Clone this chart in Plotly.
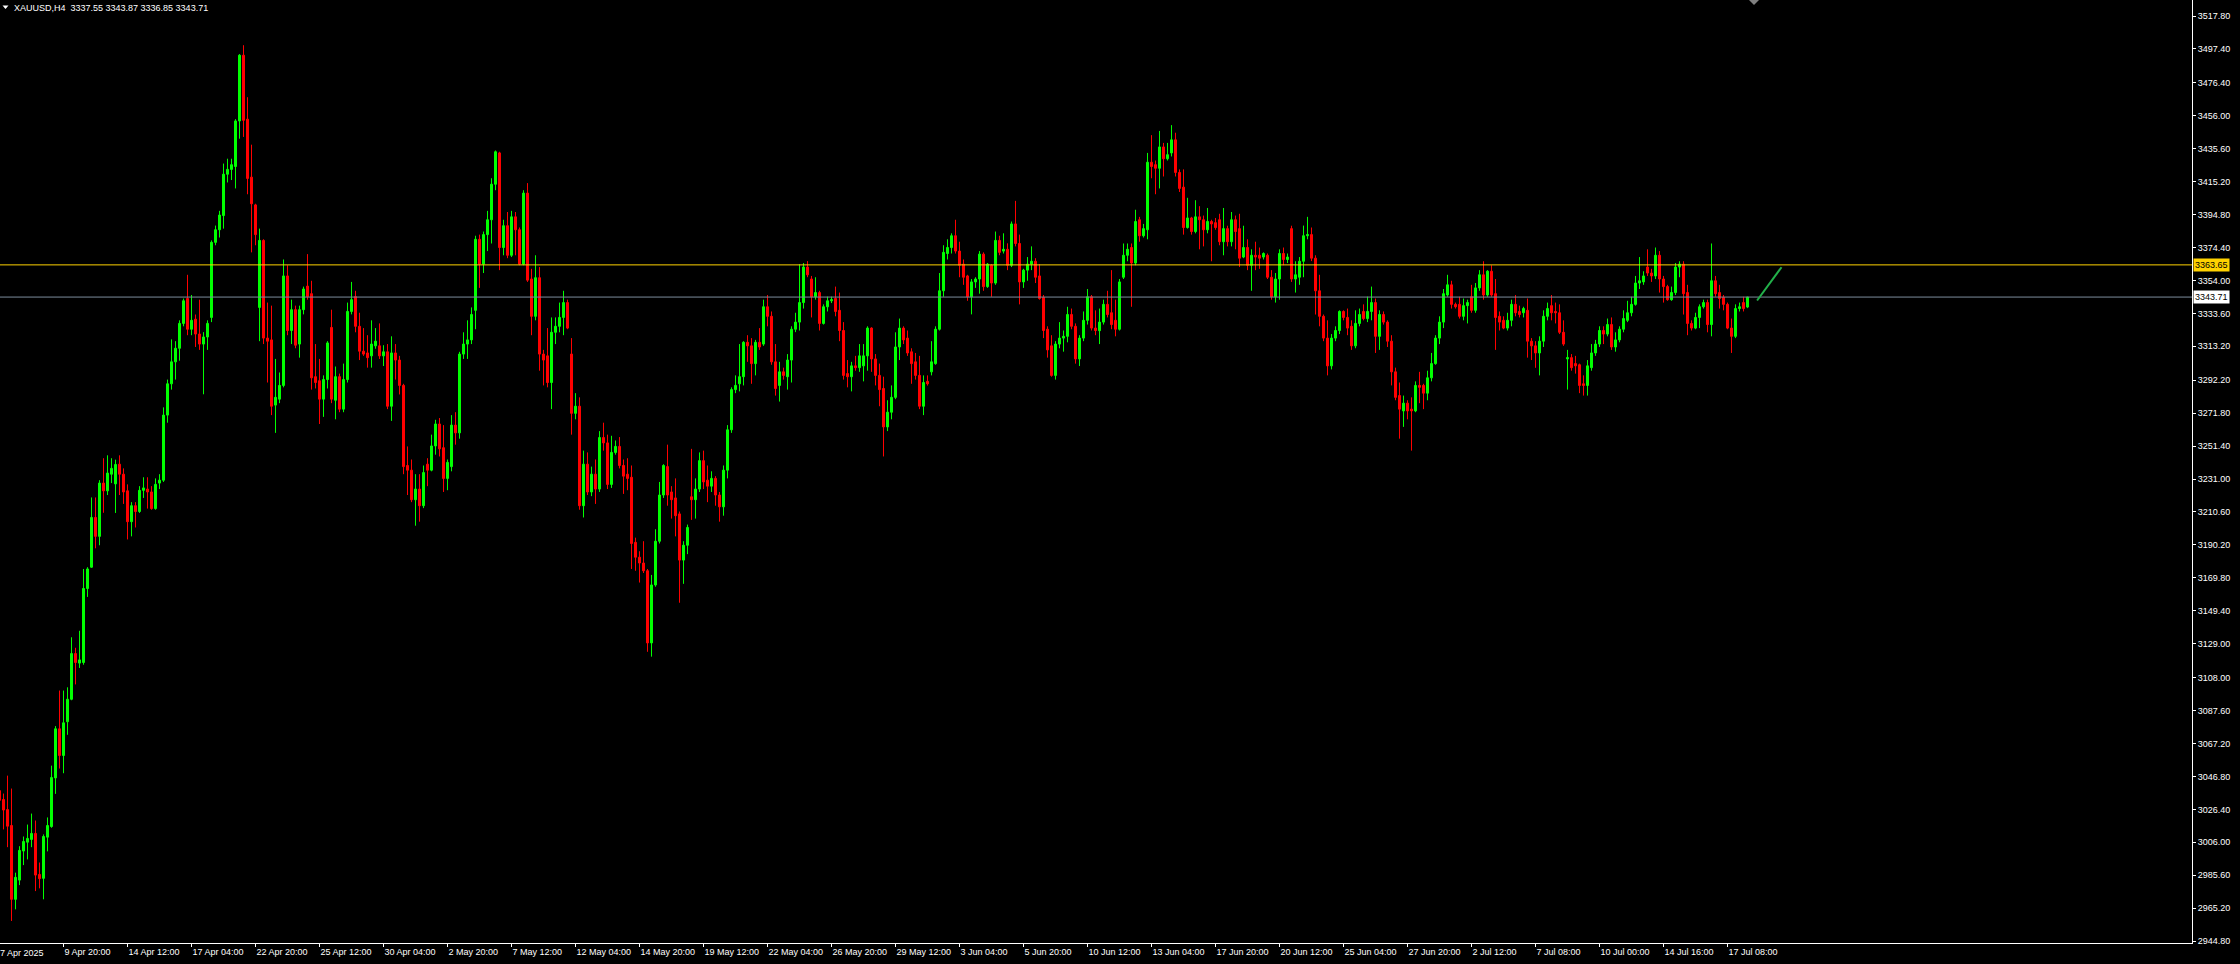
import plotly.graph_objects as go

symbol = "XAUUSD,H4"

opens = [3038,3032.5,3026.3,3016.4,2970.7,2982.6,3000.6,3006.1,3007.8,3011.5,2986.1,2983.7,3009.2,3015.8,3045.9,3076.3,3059.8,3080.7,3094.6,3122.9,
3117,3117.4,3163.2,3176.4,3207.2,3195.5,3228.5,3223.7,3234,3228,3240.2,3234,3223.7,3204.6,3214.5,3210.9,3224,3224.8,3223,3212.7,
3228.5,3230.3,3270.6,3290,3303.6,3312,3327.4,3342.8,3323.8,3330,3320.8,3314.6,3319,3331.1,3377.6,3385.4,3394.2,3419.8,3422.8,3424.6,
3452.8,3493.5,3453.9,3418,3400.8,3337.3,3378.8,3318.3,3317.2,3276.8,3280.5,3289,3356.8,3323,3335.9,3314.6,3335.9,3350.5,3345.8,3294.4,
3291.9,3280.5,3292.6,3324.9,3279.8,3294.4,3274.3,3292.6,3334.8,3344,3325.6,3310.2,3309.1,3307.3,3313.5,3313.5,3307.3,3309.8,3276.1,3309.1,
3304.7,3289,3239.4,3236.5,3218.2,3224.8,3214.5,3240.2,3236.5,3251.5,3265.1,3250.4,3231.4,3238.7,3264.4,3259.6,3308.4,3314.6,3317.2,3335.5,
3379.5,3364.1,3382.4,3391.6,3413.6,3433,3374.4,3387.9,3369.6,3393.4,3385.4,3364.1,3408.1,3354.9,3331.8,3355.7,3308.4,3307.3,3290.8,3321.9,
3325.6,3331.1,3340.3,3308.4,3271.7,3276.1,3214.5,3240.2,3223,3234,3224.8,3256.7,3253.4,3227.7,3247.5,3251.2,3239.4,3234,3232.1,3191.8,
3182.6,3179,3174.2,3129.5,3165.4,3192.5,3221.1,3238.7,3223,3219.3,3209.4,3180.8,3190,3220,3218.2,3224.8,3242.4,3230.3,3226.6,3231.4,
3221.1,3213.8,3236.5,3261.5,3286.4,3290,3294.4,3315.7,3313.5,3302.5,3315.7,3314.6,3337.7,3331.8,3303.6,3289,3297.4,3294.4,3304.7,3323.8,
3328.2,3340.3,3362.3,3354.9,3343.9,3346.5,3327.4,3337.7,3341.4,3342.8,3335.5,3323,3296.3,3294.4,3301.1,3300,3301.1,3307.3,3324.5,3305.4,
3295.2,3287.1,3263.3,3272.4,3281.6,3312.8,3324.5,3318.3,3309.8,3303.6,3295.2,3276.1,3291.5,3297.4,3302.5,3323.8,3347.6,3370.7,3374.4,3381.7,
3372.2,3364.1,3356.8,3343.9,3353.1,3354.9,3370.3,3350.2,3363.4,3352.4,3378.8,3372.2,3373.3,3363.4,3389,3376.9,3353.1,3360.4,3364.1,3365.9,
3356.8,3343.6,3323.8,3313.5,3295.2,3314.6,3318.3,3319.4,3332.9,3325.6,3305.4,3318.3,3329.3,3343.9,3324.5,3322.9,3328.2,3339.2,3334,3329.3,
3323.8,3356,3369.6,3374.4,3364.8,3391.6,3381.7,3385.4,3427.2,3425.7,3423.5,3436.7,3429.4,3433,3441.1,3420.9,3411.8,3386.8,3392.7,3384.3,
3393.4,3391.6,3385.4,3390.5,3389.8,3391.6,3378,3386.1,3378,3391.6,3386.1,3368.5,3374.4,3363.4,3369.6,3369.6,3368.5,3369.6,3356,3343.9,
3354.9,3370.7,3367,3386.1,3354.9,3356,3365.9,3381.7,3382.4,3367.8,3347.6,3331.8,3318.3,3301.1,3318.3,3323,3334.8,3331.1,3325.6,3313.5,
3327.4,3334.8,3330.4,3334.8,3340.3,3319.4,3332.9,3328.2,3316.4,3297.4,3282.7,3273.2,3278,3274.3,3273.2,3289,3289,3284.2,3293.7,3302.5,
3318.3,3328.2,3345,3351.3,3339.2,3339.2,3331.8,3338.4,3343.9,3335.5,3349.4,3357.5,3345,3359.7,3345.8,3331.8,3329.3,3324.5,3329.3,3339.2,
3334.8,3334,3335.5,3316.4,3313.5,3309.1,3316.4,3331.8,3338.4,3334.8,3334,3321.9,3305.4,3306.2,3302.5,3301.8,3290,3289,3300,3309.1,
3314.6,3323,3320.8,3326.7,3312.8,3317.2,3323.8,3329.3,3334,3339.2,3352.4,3353.1,3362.3,3358.6,3356.8,3369.6,3354.9,3350.2,3342.1,3346.5,
3362.3,3364.1,3346.5,3327.4,3324.5,3331.1,3337.7,3340.3,3326.7,3353.8,3346.5,3343.6,3339.2,3324.5,3319.4,3336.6,3340.3,3337.55]

highs = [3041,3036.2,3047.3,3039.3,2987.2,3003.6,3009.6,3017,3023.8,3019.5,2993.5,3010.9,3021.4,3053.5,3078,3100,3100,3102,3133,3126.5,
3137,3175.3,3176.4,3219.6,3219.6,3230.3,3243.9,3245.7,3243.9,3243,3245.7,3237.6,3227.7,3216.7,3216.7,3226.6,3232.1,3232.1,3226.6,3231.4,
3234,3275.4,3292.6,3317.5,3316.4,3329.3,3342.8,3357.5,3345,3332.9,3342.1,3322,3329.3,3378.8,3388,3397.1,3426.4,3429.4,3429.4,3453.9,
3494.2,3499.7,3467.5,3438.1,3401.5,3386.1,3379.5,3340.3,3338.4,3305.4,3297,3367,3363.4,3342.1,3338.4,3338.4,3350.2,3370.3,3353.8,3314.6,
3305.4,3295.2,3316.4,3335.9,3300.7,3296.3,3302.5,3340.3,3353.1,3347.6,3334,3324.5,3320.1,3329.3,3324.5,3327.4,3313.9,3314.6,3319.4,3314.6,
3307.3,3290,3251.2,3243.1,3234,3234,3239.4,3243.9,3258.5,3267.7,3268.8,3264.4,3243.1,3270.6,3272.4,3309.8,3321.9,3329.3,3337.3,3381.7,
3382.4,3384.3,3397.1,3417.3,3434.5,3433.7,3391.6,3396.4,3397.1,3396.4,3386.8,3409.9,3414.3,3361.2,3369.6,3362.3,3311,3324.5,3331.1,3331.1,
3340.3,3347.6,3342.1,3318.3,3284.2,3281.6,3248.6,3247.5,3238.7,3243.1,3260.7,3265.9,3258.5,3257.8,3254.9,3257,3243.1,3243.9,3239.4,3194.7,
3186.3,3192.5,3175.3,3171.6,3199.9,3229.2,3240.2,3252.3,3226.6,3231.4,3210.9,3192.5,3202.8,3249.7,3231.4,3247.5,3248.6,3239.4,3235.8,3232.8,
3223,3239.4,3264.4,3287.8,3295.2,3314.6,3316.4,3320.1,3318.3,3317.2,3324.5,3342.1,3345,3334.8,3314.6,3303.6,3300,3308.4,3325.6,3334,
3364.1,3364.8,3366,3356.8,3356,3347.6,3339.2,3344,3344,3350.2,3346.5,3328.2,3304.7,3303.6,3307.3,3314.6,3314.6,3325.6,3325,3308.4,
3302.5,3294.4,3279.8,3289,3321.9,3330.4,3325.6,3323,3312,3309.1,3307.3,3295.2,3295.2,3316.4,3325.6,3358.6,3375.8,3379.5,3383.2,3391.6,
3378,3367,3357.5,3354.9,3356,3372.2,3371.4,3364.8,3364.1,3384.3,3381.7,3383.2,3377,3390.5,3403.3,3382.4,3361.2,3368.5,3375.1,3367.8,
3364.1,3345,3325.6,3320.1,3316.4,3328.2,3323,3337.7,3336.6,3327.4,3320.1,3334.8,3348.7,3345,3335.5,3336.6,3342.1,3347.6,3360.4,3342.1,
3354.9,3376.9,3376.9,3376.9,3397.8,3393.4,3389,3433,3444,3428.3,3446.6,3439.2,3439.2,3450.2,3445.5,3422.8,3422.8,3405.2,3393.4,3403.7,
3400,3394.2,3398.9,3391.6,3392.7,3395.3,3398.9,3387.9,3396.4,3394.2,3395.3,3387.9,3379.5,3373.3,3378,3374.4,3371.4,3370.7,3360.4,3358.6,
3373.3,3374.4,3370.7,3387.9,3365.9,3368.5,3388,3393.4,3386.8,3369.6,3357.5,3332.9,3329.3,3320.8,3325.6,3335.5,3335.5,3336.6,3329.3,3335.5,
3336.6,3339.2,3344,3350.2,3342.8,3335.5,3334.8,3329.3,3320.1,3300,3290.8,3282.7,3279.8,3281.6,3291.5,3297.4,3290,3298.1,3309.1,3320.1,
3331.8,3348.7,3357.5,3353.8,3340.3,3343.9,3342.8,3342.1,3351.3,3352.4,3360.4,3365.9,3360.4,3363.4,3354.9,3334.8,3331.8,3334,3342.1,3345,
3338.4,3337.7,3342.8,3318.3,3316.4,3319.4,3335.5,3340.3,3345,3340.3,3339.2,3329.3,3311,3308.4,3307.3,3302.5,3295.2,3304.7,3314.6,3317.2,
3325.6,3325.6,3330.4,3331.1,3321.9,3325.6,3335.5,3341.4,3343.9,3356.8,3368.5,3359.7,3373.3,3361.2,3374.4,3372.2,3356.8,3351.3,3350.2,3364.8,
3365.9,3365.9,3351.3,3329.3,3334,3339.2,3342.1,3342.1,3376.9,3356.8,3351.3,3345,3340.3,3330.4,3339.2,3340.3,3343.9,3343.87]

lows = [3026,3014,3003,2957.3,2964.5,2979.5,2991.9,2995.4,3003,2975.8,2977.5,2970.7,3000.4,3015,3036,3051.7,3048.8,3072.6,3094,3103.8,
3114,3116,3158,3176,3188.1,3190,3210.1,3221.1,3228.5,3210,3221.1,3215.6,3193.6,3195.5,3201,3210,3219.3,3212.7,3212,3212,
3224.8,3229.2,3265.9,3286.4,3292.6,3304.3,3325.6,3320.1,3320.1,3312.8,3311,3283.5,3311,3328.2,3375.8,3380.6,3386.1,3414.7,3416.2,3411,
3441.8,3442.9,3407.4,3371.4,3375.8,3316.4,3314.6,3290.8,3270.6,3259.6,3278,3287.8,3320.1,3314.6,3312,3306.2,3333,3342.1,3286.4,3287.1,
3265.1,3269.5,3287.1,3278,3268,3272.4,3272.4,3290.8,3333,3321.9,3304.7,3307.3,3300,3300,3311.7,3305.4,3301,3274.3,3267,3292.6,
3283.4,3234,3221.1,3216.7,3202.1,3204.6,3213,3226.6,3235.8,3246.1,3245,3223,3224.1,3235.8,3252.3,3256,3305.4,3305.4,3314.6,3323.8,
3349.4,3358.6,3372.2,3376.9,3409.9,3360.4,3369.6,3367.8,3368.5,3369.6,3363.4,3363.4,3353.1,3320.1,3329.3,3298.1,3289,3287.8,3274.3,3314.6,
3321.9,3320.1,3323.8,3258.5,3268,3212,3207.2,3221.1,3220.4,3215.6,3223,3248.6,3224.8,3225.5,3246.1,3237.6,3221.8,3224.1,3175.3,3174.2,
3166.9,3172.8,3124,3121,3164.3,3191.1,3219.3,3214.5,3206.5,3195.5,3154.4,3166.1,3184.5,3205.7,3206.5,3223,3224.8,3216.7,3223,3214.5,
3204.6,3208.3,3231.4,3259.6,3284.2,3285.3,3289,3303.6,3290,3295.2,3311,3313.5,3325.6,3301.8,3282.7,3279,3292.6,3286.4,3290.8,3322,
3323,3336.6,3356,3331.1,3342.1,3323,3326.7,3334.8,3340,3331.8,3316.4,3292.6,3287.8,3285.3,3298.1,3297.4,3291.5,3298.1,3297.4,3289,
3276.1,3245,3260.7,3268,3280.5,3304.7,3314.6,3307.3,3290,3292.6,3274.3,3270.6,3288.9,3295.2,3301.8,3323,3343.9,3367,3370.7,3370.7,
3356,3351.3,3341.4,3333,3349.4,3345.8,3347.6,3349.4,3343.9,3351.3,3369.6,3370.7,3360.4,3362.3,3375.1,3339.2,3349.4,3353.8,3360.4,3352.4,
3342.1,3318.3,3306.2,3294.4,3292.6,3312,3309.9,3315.7,3323.8,3302.5,3301,3316.4,3326.7,3323,3320.1,3314.6,3326.7,3331.1,3323.8,3319.4,
3323,3354.9,3365.9,3337.7,3363.4,3378,3380.6,3379.5,3417.3,3407.4,3411,3418.4,3428.3,3430.8,3418.4,3408.8,3382.4,3386.1,3382.4,3383.2,
3373.3,3375.1,3383.2,3365.9,3385.4,3375.8,3369.6,3375.1,3375.1,3373.3,3362.3,3367.8,3360.4,3347.6,3360.4,3361.2,3367,3354.9,3342.1,3340.3,
3342.1,3363.4,3364.8,3353.1,3346.5,3351.3,3356,3379.5,3366,3332.9,3325.6,3316.4,3295.2,3298.9,3316.4,3320.8,3329.3,3320.1,3311,3312,
3325.6,3329.3,3328.2,3329.3,3309.1,3311,3326.7,3312.8,3289,3279.8,3256,3263.3,3268,3248.6,3272.4,3278,3274.3,3279.8,3291.5,3301.8,
3314.6,3324.5,3343.9,3336.6,3336.6,3330.4,3329.3,3327.4,3334,3334,3347.6,3342.1,3343.9,3343.9,3311,3323,3323.8,3323,3325.6,3331.8,
3331.1,3331.1,3306.2,3304.7,3299.9,3295.2,3312.8,3329.3,3329.3,3327.4,3320.8,3313.5,3286.4,3298.1,3296.3,3284.2,3282.7,3282.7,3298.1,3307.3,
3312.8,3314.6,3319.4,3311,3309.9,3315.7,3321.9,3328.2,3331.8,3338.4,3348.7,3351.3,3356.8,3353.1,3354.9,3346.5,3340.3,3341.4,3341.4,3345,
3356,3332.9,3320.1,3323,3323.8,3324.5,3336.6,3321.9,3319.4,3343.9,3336.6,3335.5,3323.8,3309.1,3318.3,3334.8,3334.8,3336.85]

closes = [3032,3026,3016,2970.7,2984.3,3001,3006.5,3008.4,3011.5,2985.7,2983.5,3009.6,3016.4,3046.1,3076.3,3059.8,3080,3094.6,3122.9,3117.4,
3119,3163.2,3175.3,3207.2,3195.5,3228.5,3223.7,3234.7,3237.6,3240,3234,3223,3204.6,3214.5,3210.9,3224,3225.5,3223,3212.7,3227.7,
3230.3,3270.6,3290,3303.6,3312,3327.4,3341.4,3323.8,3329.3,3320.8,3314.6,3319,3327.4,3377.6,3385.4,3394.5,3419.8,3422.8,3425.7,3452.8,
3493.5,3453.2,3417.2,3401.5,3382.4,3378.8,3318.3,3316.4,3276.1,3281.6,3289,3356.8,3323,3335.9,3313.9,3335.9,3348.7,3344,3293.7,3290.8,
3280.5,3292.6,3315.3,3280.5,3294.4,3274.3,3292.6,3334.8,3342.1,3325.6,3310.2,3308.4,3306.2,3314.6,3316.4,3307.3,3309.8,3276.1,3309.1,3304.7,
3289,3238.7,3236.5,3218.2,3224.8,3214.5,3235,3236.5,3251.5,3265.1,3249.7,3231.4,3241.3,3264.4,3259.6,3308.4,3314.6,3317.2,3332.9,3379.5,
3364.1,3382.4,3391.6,3413.6,3433.7,3374.4,3387.9,3369.6,3393.4,3385.4,3364.1,3408.1,3354.2,3331.8,3355.7,3308.4,3304.7,3290.8,3321.9,3325.6,
3331.1,3340.3,3324.5,3271.7,3276.1,3214.5,3240.2,3223,3234,3224.8,3256.7,3253.4,3227.7,3247.5,3251.2,3239.4,3232.8,3231.4,3191.1,3182.6,
3179,3174.2,3129.5,3165.4,3192.5,3221.1,3239.4,3221.1,3218.2,3208.3,3180.8,3190,3201,3218.2,3224.8,3242.4,3229.2,3226.6,3231.4,3221.1,
3213.8,3236.5,3261.5,3286.4,3289,3294.4,3315.7,3313.5,3302.5,3315.7,3312.8,3337.7,3331.8,3303.6,3287.1,3297.4,3295.2,3304.7,3323.8,3328.2,
3340.3,3362.3,3357.5,3343.9,3346.5,3327.4,3337.7,3341.4,3342.1,3334.8,3323,3295.2,3294.4,3301.1,3300,3307.3,3307.3,3324.5,3305.4,3295.2,
3286.4,3263.3,3272.4,3281.6,3312.8,3324.5,3317.2,3309.1,3302.5,3295.2,3276.1,3290.8,3290,3303.6,3323.8,3347.6,3371.4,3374.4,3381.7,3372.2,
3363.4,3356,3343.9,3353.1,3354.9,3370.3,3350.2,3364.1,3352.4,3378.8,3371.4,3373.3,3363.4,3389,3376.9,3353.1,3360.4,3364.1,3365.9,3356,
3342.8,3323,3311,3295.2,3314.6,3318.3,3319.4,3332.9,3325.6,3305.4,3318.3,3329.3,3343.9,3324.5,3323,3328.2,3339.2,3332.9,3326.7,3323.8,
3353.1,3369.6,3373.3,3364.8,3390.5,3381.7,3386.1,3427.2,3424.6,3423.5,3436.7,3429.4,3431.9,3441.1,3420.9,3411,3386.8,3392.7,3384.3,3393.4,
3391.6,3385.4,3390.5,3389,3386.8,3378,3386.1,3378,3391.6,3384.3,3367.8,3374.4,3363.4,3369.6,3368.5,3367.8,3370.7,3356,3343.9,3354.9,
3370.7,3367,3368.5,3354.9,3357.5,3365.9,3381.7,3382.4,3367.8,3347.6,3331.8,3318.3,3301.1,3318.3,3323,3334.8,3331.1,3324.5,3313.5,3327.4,
3332.9,3330.4,3334.8,3340.3,3319.4,3332.9,3328.2,3316.4,3297.4,3281.6,3274.3,3278,3273.2,3273.2,3289,3287.8,3284.2,3293.7,3302.5,3318.3,
3328.2,3345.8,3351.3,3339.2,3337.7,3331.8,3338.4,3340.3,3335.5,3349.4,3357.5,3345,3359.7,3345,3331.1,3328.2,3324.5,3329.3,3339.2,3334,
3332.9,3336.6,3316.4,3313.5,3309.1,3316.4,3331.8,3336.6,3334,3334,3321.9,3314.6,3306.2,3300,3301.1,3289,3289,3301.1,3309.1,3314.6,
3323,3320.8,3326.7,3312.8,3317.2,3323.8,3330.4,3334,3339.2,3352.4,3353.8,3356.8,3358.6,3356.8,3369.6,3354.9,3350.2,3342.1,3346.5,3362.3,
3364.1,3345.8,3327.4,3324.5,3331.1,3337.7,3340.3,3326.7,3353.8,3345.8,3342.8,3339.2,3324.5,3319.4,3336.6,3337.7,3336.6,3343.71]

# time-axis labels and the bar each one belongs to
first_label = "7 Apr 2025"
first_bar = 0
tick_bars = [16, 32, 48, 64, 80, 96, 112, 128, 144, 160, 176, 192, 208, 224, 240, 256, 272,
             288, 304, 320, 336, 352, 368, 384, 400, 416, 432]
tick_labels = ["9 Apr 20:00", "14 Apr 12:00", "17 Apr 04:00", "22 Apr 20:00", "25 Apr 12:00",
               "30 Apr 04:00", "2 May 20:00", "7 May 12:00", "12 May 04:00", "14 May 20:00", "19 May 12:00",
               "22 May 04:00", "26 May 20:00", "29 May 12:00", "3 Jun 04:00", "5 Jun 20:00", "10 Jun 12:00",
               "13 Jun 04:00", "17 Jun 20:00", "20 Jun 12:00", "25 Jun 04:00", "27 Jun 20:00", "2 Jul 12:00",
               "7 Jul 08:00", "10 Jul 00:00", "14 Jul 16:00", "17 Jul 08:00"]

price_ticks = [3517.80, 3497.40, 3476.40, 3456.00, 3435.60, 3415.20, 3394.80, 3374.40, 3354.00, 3333.60,
               3313.20, 3292.20, 3271.80, 3251.40, 3231.00, 3210.60, 3190.20, 3169.80, 3149.40, 3129.00,
               3108.00, 3087.60, 3067.20, 3046.80, 3026.40, 3006.00, 2985.60, 2965.20, 2944.80]

level_line = 3363.65          # yellow horizontal level
bid_price = closes[-1]        # current price line

# hand-drawn trend arrow (bar index, price)
arrow_bars = [439.4, 445.5]
arrow_prices = [3341.6, 3362.2]

bars = list(range(len(closes)))

# ---------------- layout geometry ----------------
W, H = 2240, 964
plot_w, plot_h = 2192, 943
px_per_bar = 4
x_lo = 0.125
x_hi = x_lo + plot_w / px_per_bar
y_hi = 3527.71
y_lo = 2943.64

FONT = "Liberation Sans, Arial, sans-serif"
FS = 9

fig = go.Figure()
fig.add_trace(go.Candlestick(
    x=bars, open=opens, high=highs, low=lows, close=closes,
    increasing=dict(line=dict(color="#00FF00", width=1), fillcolor="#00FF00"),
    decreasing=dict(line=dict(color="#FF0000", width=1), fillcolor="#FF0000"),
    whiskerwidth=0, hoverinfo="skip", showlegend=False,
))

fig.update_layout(
    width=W, height=H,
    margin=dict(l=0, r=W - plot_w, t=0, b=H - plot_h, autoexpand=False),
    paper_bgcolor="#000000", plot_bgcolor="#000000",
    boxgap=0.5, boxgroupgap=0,
    showlegend=False,
    font=dict(family=FONT, size=FS, color="#FFFFFF"),
    xaxis=dict(
        range=[x_lo, x_hi], rangeslider=dict(visible=False),
        showgrid=False, zeroline=False, automargin=False,
        tickmode="array", tickvals=tick_bars, ticktext=tick_labels, tickangle=0,
        ticks="outside", ticklen=3, tickcolor="#FFFFFF", tickwidth=1,
        ticklabelposition="outside right",
        tickfont=dict(family=FONT, size=FS, color="#FFFFFF"),
        showline=True, linecolor="#FFFFFF", linewidth=1,
        fixedrange=True,
    ),
    yaxis=dict(
        range=[y_lo, y_hi], side="right",
        showgrid=False, zeroline=False, automargin=False,
        tickmode="array", tickvals=price_ticks, ticktext=[f"{v:.2f}" for v in price_ticks],
        ticks="outside", ticklen=3, tickcolor="#FFFFFF", tickwidth=1,
        tickfont=dict(family=FONT, size=FS, color="#FFFFFF"),
        showline=True, linecolor="#FFFFFF", linewidth=1,
        fixedrange=True,
    ),
)

# first date label (bar 0 sits at the very left edge)
fig.add_annotation(xref="paper", yref="paper",
                   x=((first_bar - x_lo) * px_per_bar - 2) / plot_w, y=-10 / plot_h,
                   xanchor="left", yanchor="middle", text=first_label, showarrow=False,
                   font=dict(family=FONT, size=FS, color="#FFFFFF"))

# horizontal lines
fig.add_shape(type="line", xref="paper", x0=0, x1=1, yref="y", y0=level_line, y1=level_line,
              line=dict(color="#FFD200", width=1))
fig.add_shape(type="line", xref="paper", x0=0, x1=1, yref="y", y0=bid_price, y1=bid_price,
              line=dict(color="#7C8C9C", width=1))

# price labels on the axis
fig.add_annotation(xref="paper", x=1, xanchor="left", xshift=1, yref="y", y=level_line,
                   text=f"{level_line:.2f}", showarrow=False, bgcolor="#FFD200",
                   font=dict(family=FONT, size=FS, color="#000000"), borderpad=1)
fig.add_annotation(xref="paper", x=1, xanchor="left", xshift=1, yref="y", y=bid_price,
                   text=f"{bid_price:.2f}", showarrow=False, bgcolor="#FFFFFF",
                   font=dict(family=FONT, size=FS, color="#000000"), borderpad=1)

# trend arrow
fig.add_shape(type="line", xref="x", yref="y",
              x0=arrow_bars[0], y0=arrow_prices[0], x1=arrow_bars[1], y1=arrow_prices[1],
              line=dict(color="#22B04A", width=2))

# title
title_text = f"{symbol}  {opens[-1]:.2f} {highs[-1]:.2f} {lows[-1]:.2f} {closes[-1]:.2f}"
fig.add_annotation(xref="paper", yref="paper", x=12 / plot_w, y=1 - 8 / plot_h,
                   xanchor="left", yanchor="middle", text=title_text, showarrow=False,
                   font=dict(family=FONT, size=FS, color="#FFFFFF"))
# small menu triangle left of the title
fig.add_shape(type="path", xref="paper", yref="paper",
              path=f"M {2.5/plot_w} {1-5.5/plot_h} L {8.5/plot_w} {1-5.5/plot_h} L {5.5/plot_w} {1-9/plot_h} Z",
              fillcolor="#FFFFFF", line=dict(width=0))
# chart-shift marker at the top
fig.add_shape(type="path", xref="paper", yref="paper",
              path=f"M {1749/plot_w} 1 L {1759/plot_w} 1 L {1754/plot_w} {1-5/plot_h} Z",
              fillcolor="#808080", line=dict(width=0))

fig.write_html("out.html", config={"displayModeBar": False, "staticPlot": True},
               post_script="document.body.style.margin='0';document.body.style.background='#000';")
